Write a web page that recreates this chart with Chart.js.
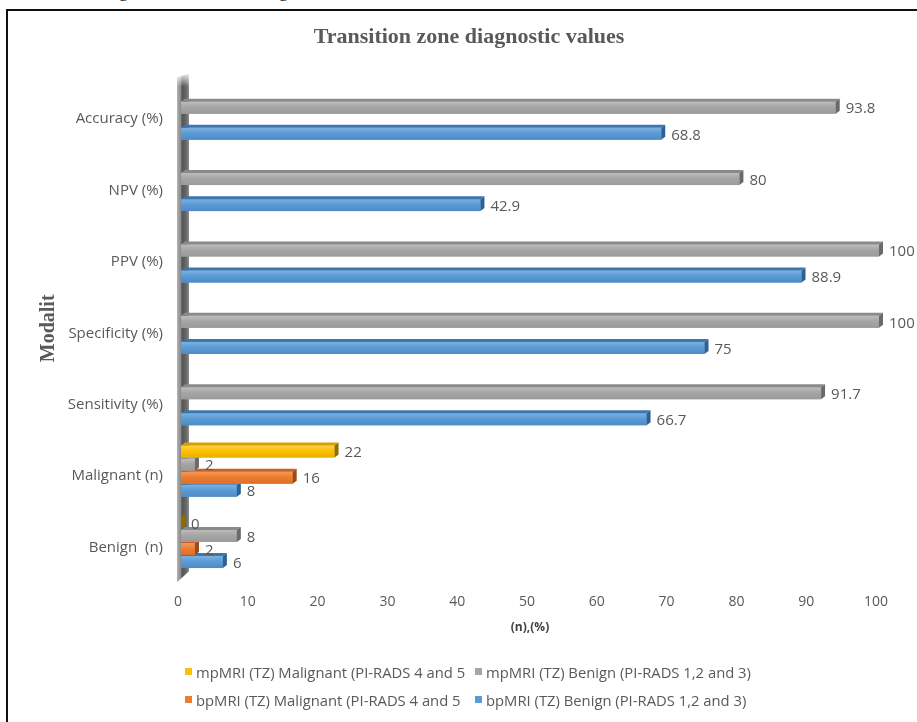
<!DOCTYPE html>
<html>
<head>
<meta charset="utf-8">
<title>Transition zone diagnostic values</title>
<script src="https://cdn.jsdelivr.net/npm/chart.js@4.4.1/dist/chart.umd.min.js"></script>
<style>
  html, body { margin: 0; padding: 0; background: #fff; width: 917px; height: 722px; overflow: hidden; position: relative; }
  .frame { position: absolute; left: 6px; top: 9px; width: 940px; height: 740px; box-sizing: border-box;
           border-top: 2.5px solid #111; border-left: 2px solid #111; }
  .above { position: absolute; top: -18px; font: 18px "Liberation Serif", serif; color: #222; line-height: 18px; }
  #chartBox { position: absolute; left: 0; top: 0; width: 917px; height: 722px; }
  #legend { position: absolute; left: 185px; top: 662px; display: grid; grid-template-columns: 290px 290px;
            row-gap: 9px; font: 14.8px "Open Sans", sans-serif; color: #595959; white-space: nowrap; }
  #legend .item { display: flex; align-items: center; height: 19px; }
  #legend .sw { display: inline-block; width: 7px; height: 7px; margin-right: 4px; }
</style>
</head>
<body>
<div class="above" style="left:119px">g</div>
<div class="above" style="left:279px">g</div>
<div class="frame"></div>
<div id="chartBox"><canvas id="c" width="917" height="722"></canvas></div>
<div id="legend"></div>
<script>
// Categories, listed top to bottom
const categories = ['Accuracy (%)', 'NPV (%)', 'PPV (%)', 'Specificity (%)', 'Sensitivity (%)', 'Malignant (n)', 'Benign  (n)'];

// Series names
const seriesNames = [
  'mpMRI (TZ) Malignant (PI-RADS 4 and 5',
  'mpMRI (TZ) Benign (PI-RADS 1,2 and 3)',
  'bpMRI (TZ) Malignant (PI-RADS 4 and 5',
  'bpMRI (TZ) Benign (PI-RADS 1,2 and 3)'
];

// Series values per category
const mpMalignant = [null, null, null, null, null, 22, 0];
const mpBenign    = [93.8, 80, 100, 100, 91.7, 2, 8];
const bpMalignant = [null, null, null, null, null, 16, 2];
const bpBenign    = [68.8, 42.9, 88.9, 75, 66.7, 8, 6];

// Value axis ticks
const xTicks = [0, 10, 20, 30, 40, 50, 60, 70, 80, 90, 100];

const chartTitle = 'Transition zone diagnostic values';
const axisTitleX = '(n),(%)';
const axisTitleY = 'Modalit';

// Face colours for the extruded bars: front gradient, top face, side face
const palette = [
  { base: '#FFC000', hi: '#FFD24A', lo: '#EBB000', top: '#D6A100', side: '#8F6D00' },
  { base: '#A5A5A5', hi: '#BDBDBD', lo: '#9A9A9A', top: '#8A8A8A', side: '#6A6A6A' },
  { base: '#ED7D31', hi: '#F49A5C', lo: '#DE6F24', top: '#C4612A', side: '#9A4B1B' },
  { base: '#5B9BD5', hi: '#7DB1E2', lo: '#4E8BC5', top: '#3C76AE', side: '#2C6098' }
];
const DEPTH_X = 4, DEPTH_Y = 3;
const seriesValues = [mpMalignant, mpBenign, bpMalignant, bpBenign];

// Shaded back wall along the category axis
const wallPlugin = {
  id: 'wall',
  beforeDatasetsDraw(chart) {
    const ctx = chart.ctx;
    const x0 = chart.scales.x.getPixelForValue(0);
    const { top, bottom } = chart.chartArea;
    const l = x0 - 4, r = x0 + 8;
    const g = ctx.createLinearGradient(l, 0, r, 0);
    g.addColorStop(0, '#b3b3b3');
    g.addColorStop(0.3, '#8c8c8c');
    g.addColorStop(0.42, '#555555');
    g.addColorStop(0.75, '#666666');
    g.addColorStop(1, '#8e8e8e');
    ctx.save();
    ctx.fillStyle = g;
    ctx.beginPath();
    ctx.moveTo(l, top - 1);
    ctx.lineTo(r, top - 5);
    ctx.lineTo(r, bottom - 7);
    ctx.lineTo(l, bottom + 4);
    ctx.closePath();
    ctx.fill();
    // soft fade at the top edge
    const f = ctx.createLinearGradient(0, top - 6, 0, top + 8);
    f.addColorStop(0, 'rgba(255,255,255,0.95)');
    f.addColorStop(1, 'rgba(255,255,255,0)');
    ctx.fillStyle = f;
    ctx.fillRect(l, top - 6, r - l, 14);
    ctx.restore();
  }
};

// Extrusion faces and value labels for each bar
const bar3dPlugin = {
  id: 'bar3d',
  afterDatasetDraw(chart, args) {
    const i = args.index, c = palette[i], ctx = chart.ctx;
    const values = chart.data.datasets[i].data;
    args.meta.data.forEach((bar, j) => {
      if (values[j] === null || values[j] === undefined) return;
      const { x, y, base, height } = bar.getProps(['x', 'y', 'base', 'height'], true);
      const t = y - height / 2, b = y + height / 2;
      ctx.save();
      if (x > base) {
        const g = ctx.createLinearGradient(0, t, 0, b);
        g.addColorStop(0, c.hi);
        g.addColorStop(0.45, c.base);
        g.addColorStop(1, c.lo);
        ctx.fillStyle = g;
        ctx.fillRect(base, t, x - base, height);
        ctx.fillStyle = c.top;
        ctx.beginPath();
        ctx.moveTo(base, t);
        ctx.lineTo(x, t);
        ctx.lineTo(x + DEPTH_X, t - DEPTH_Y);
        ctx.lineTo(base + DEPTH_X, t - DEPTH_Y);
        ctx.closePath();
        ctx.fill();
      }
      ctx.fillStyle = c.side;
      ctx.beginPath();
      ctx.moveTo(x, t);
      ctx.lineTo(x + DEPTH_X, t - DEPTH_Y);
      ctx.lineTo(x + DEPTH_X, b - DEPTH_Y);
      ctx.lineTo(x, b);
      ctx.closePath();
      ctx.fill();
      ctx.restore();
    });
  },
  afterDatasetsDraw(chart) {
    const ctx = chart.ctx;
    ctx.save();
    ctx.font = '15px "Open Sans", sans-serif';
    ctx.fillStyle = '#595959';
    ctx.textAlign = 'left';
    ctx.textBaseline = 'middle';
    chart.data.datasets.forEach((ds, i) => {
      chart.getDatasetMeta(i).data.forEach((bar, j) => {
        const v = ds.data[j];
        if (v === null || v === undefined) return;
        const { x, y } = bar.getProps(['x', 'y'], true);
        ctx.fillText(String(v), x + DEPTH_X + 6, y + 1.5);
      });
    });
    ctx.restore();
  }
};

// Chart heading
const headingPlugin = {
  id: 'heading',
  afterDraw(chart, args, opts) {
    const ctx = chart.ctx;
    ctx.save();
    ctx.font = 'bold 22px "Liberation Serif", serif';
    ctx.fillStyle = '#595959';
    ctx.textAlign = 'center';
    ctx.textBaseline = 'middle';
    ctx.fillText(opts.text, opts.x, opts.y);
    ctx.restore();
  }
};

// Two-column legend built from the datasets
const htmlLegendPlugin = {
  id: 'htmlLegend',
  afterUpdate(chart) {
    const box = document.getElementById('legend');
    box.innerHTML = '';
    chart.data.datasets.forEach((ds) => {
      const item = document.createElement('div');
      item.className = 'item';
      const sw = document.createElement('span');
      sw.className = 'sw';
      sw.style.background = ds.backgroundColor;
      const tx = document.createElement('span');
      tx.textContent = ds.label;
      item.append(sw, tx);
      box.append(item);
    });
  }
};

new Chart(document.getElementById('c'), {
  type: 'bar',
  data: {
    labels: categories,
    datasets: seriesNames.map((name, i) => ({
      label: name,
      data: seriesValues[i],
      backgroundColor: palette[i].base,
      borderWidth: 0,
      categoryPercentage: 0.73,
      barPercentage: 0.92
    }))
  },
  options: {
    indexAxis: 'y',
    responsive: false,
    animation: false,
    devicePixelRatio: 1,
    layout: { padding: { left: 0, right: 38, top: 78.5, bottom: 72 } },
    plugins: {
      legend: { display: false },
      tooltip: { enabled: false },
      title: { display: false },
      heading: { text: chartTitle, x: 469, y: 37 }
    },
    scales: {
      x: {
        min: 0, max: 100,
        afterBuildTicks(scale) { scale.ticks = xTicks.map(v => ({ value: v })); },
        ticks: { color: '#595959', font: { family: 'Open Sans', size: 14 }, padding: 15, labelOffset: -3 },
        grid: { display: false, drawTicks: false },
        border: { display: false },
        title: { display: true, text: axisTitleX, color: '#404040',
                 font: { family: 'Open Sans', size: 12, weight: 'bold' }, padding: { top: 0, bottom: 15 } },
        afterFit(scale) { scale.height = 71.8; }
      },
      y: {
        ticks: { color: '#595959', font: { family: 'Open Sans', size: 15 }, padding: 18, labelOffset: 5, autoSkip: false },
        grid: { display: false, drawTicks: false },
        border: { display: false },
        title: { display: true, text: axisTitleY, color: '#595959',
                 font: { family: 'Liberation Serif', size: 20, weight: 'bold' }, padding: { top: 37, bottom: 0 } },
        afterFit(scale) { scale.width = 181; }
      }
    }
  },
  plugins: [wallPlugin, bar3dPlugin, headingPlugin, htmlLegendPlugin]
});
</script>
</body>
</html>
